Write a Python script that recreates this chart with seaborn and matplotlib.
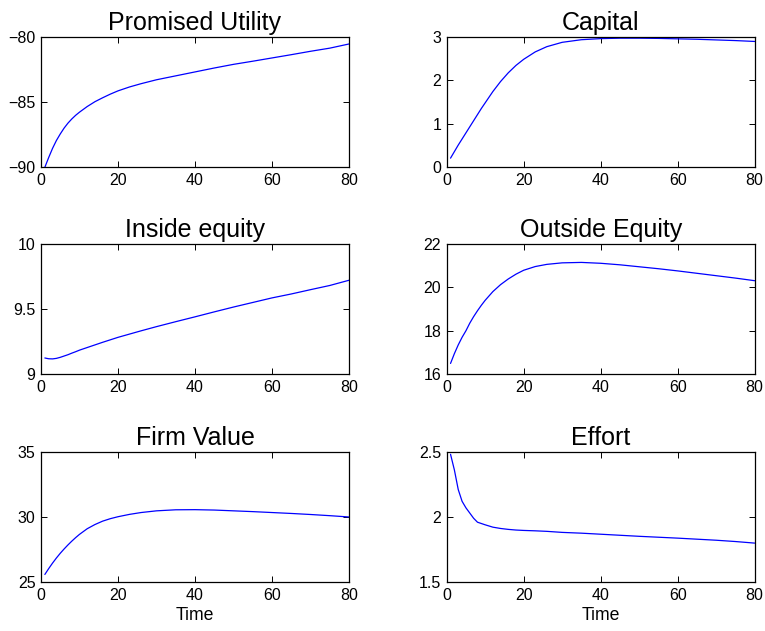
import numpy as np
import pandas as pd
import matplotlib
matplotlib.use("Agg")
import matplotlib.pyplot as plt
import seaborn as sns

# time grid the values were read at
time = [1, 2, 3, 4, 5, 6, 7, 8, 9, 10, 12, 14, 16, 18, 20, 23, 26, 30,
        35, 40, 45, 50, 55, 60, 65, 70, 75, 80]

promised_utility = [-90.0, -89.25, -88.55, -87.95, -87.45, -87.0, -86.62, -86.3,
                    -86.02, -85.78, -85.35, -84.98, -84.68, -84.4, -84.15, -83.85,
                    -83.6, -83.3, -83.0, -82.7, -82.4, -82.12, -81.88, -81.63,
                    -81.38, -81.12, -80.88, -80.56]
capital = [0.21, 0.36, 0.51, 0.65, 0.79, 0.93, 1.07, 1.21, 1.35, 1.48, 1.74, 1.97,
           2.17, 2.34, 2.48, 2.65, 2.77, 2.87, 2.93, 2.955, 2.965, 2.965, 2.96,
           2.95, 2.94, 2.925, 2.91, 2.89]
inside_equity = [9.125, 9.119, 9.118, 9.122, 9.13, 9.14, 9.15, 9.162, 9.173, 9.185,
                 9.205, 9.225, 9.245, 9.264, 9.283, 9.308, 9.333, 9.365, 9.403,
                 9.44, 9.478, 9.515, 9.55, 9.585, 9.615, 9.648, 9.68, 9.72]
outside_equity = [16.5, 16.95, 17.35, 17.7, 18.0, 18.35, 18.65, 18.92, 19.17, 19.4,
                  19.8, 20.12, 20.38, 20.6, 20.78, 20.95, 21.05, 21.12, 21.14, 21.1,
                  21.03, 20.94, 20.85, 20.75, 20.64, 20.53, 20.42, 20.3]
firm_value = [25.6, 26.05, 26.47, 26.86, 27.22, 27.55, 27.86, 28.15, 28.42, 28.67,
              29.1, 29.42, 29.68, 29.87, 30.02, 30.2, 30.34, 30.47, 30.55, 30.56,
              30.53, 30.47, 30.41, 30.34, 30.27, 30.19, 30.1, 30.0]
effort = [2.48, 2.36, 2.21, 2.12, 2.07, 2.03, 1.99, 1.96, 1.95, 1.94, 1.922, 1.912,
          1.905, 1.9, 1.897, 1.894, 1.89, 1.882, 1.876, 1.868, 1.86, 1.852, 1.845,
          1.838, 1.83, 1.822, 1.812, 1.80]

titles = ["Promised Utility", "Capital", "Inside equity", "Outside Equity",
          "Firm Value", "Effort"]
series = [promised_utility, capital, inside_equity, outside_equity, firm_value, effort]
ylims = [(-90, -80), (0, 3), (9, 10), (16, 22), (25, 35), (1.5, 2.5)]
yticks = [[-90, -85, -80], [0, 1, 2, 3], [9, 9.5, 10], [16, 18, 20, 22],
          [25, 30, 35], [1.5, 2, 2.5]]
yticklabels = [["\u221290", "\u221285", "\u221280"], ["0", "1", "2", "3"],
               ["9", "9.5", "10"], ["16", "18", "20", "22"], ["25", "30", "35"],
               ["1.5", "2", "2.5"]]

sns.set_style("ticks")
plt.rcParams['font.family'] = ['Liberation Sans', 'DejaVu Sans']
plt.rcParams['text.color'] = 'black'
plt.rcParams['axes.labelcolor'] = 'black'

fig = plt.figure(figsize=(7.65, 6.31), dpi=100)

lefts = [0.0536, 0.5839]
bottoms = [0.7349, 0.4068, 0.0772]
w, h = 0.4026, 0.207

for i, (title, vals) in enumerate(zip(titles, series)):
    row, col = divmod(i, 2)
    ax = fig.add_axes([lefts[col], bottoms[row], w, h])
    df = pd.DataFrame({"Time": time, "val": vals})
    sns.lineplot(data=df, x="Time", y="val", ax=ax, color="#0000ff", linewidth=0.9)
    ax.set_xlim(0, 80)
    ax.set_ylim(*ylims[i])
    ax.set_xticks([0, 20, 40, 60, 80])
    ax.set_yticks(yticks[i])
    ax.set_yticklabels(yticklabels[i])
    ax.tick_params(direction="in", length=4, width=0.7, top=True, right=True,
                   labelsize=11.5, pad=4, colors="black")
    for s in ax.spines.values():
        s.set_linewidth(0.9)
        s.set_color("black")
    ax.set_title(title, fontsize=18, pad=5, color="black")
    ax.set_ylabel("")
    if row == 2:
        ax.set_xlabel("Time", fontsize=12.7, labelpad=3, color="black")
    else:
        ax.set_xlabel("")

fig.savefig("out.png", dpi=100)
